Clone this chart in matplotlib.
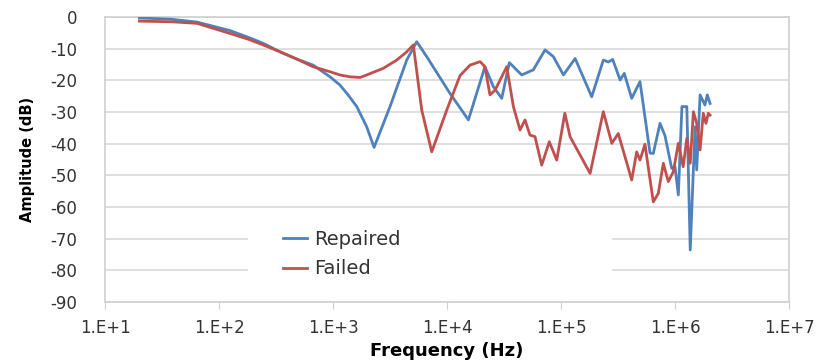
import numpy as np
import matplotlib.pyplot as plt
from matplotlib.patches import Rectangle

# Repaired (blue)
freq_repaired = [20, 38, 64, 125, 180, 243, 343, 450, 668, 942, 1150, 1355, 1615, 1975, 2290,
                 3160, 4430, 5420, 6630, 10600, 15400, 21500, 25500, 30200, 35200,
                 45200, 57100, 72400, 85600, 105000, 133000, 186000, 235000, 260000,
                 284000, 330000, 359000, 417000, 493000, 604000, 645000, 739000,
                 817000, 935000, 1.0e6, 1.07e6, 1.15e6, 1.27e6, 1.36e6, 1.50e6,
                 1.55e6, 1.66e6, 1.83e6, 1.92e6, 2.03e6]
amp_repaired = [-0.3, -0.7, -1.6, -4.3, -6.4, -8.3, -11.0, -12.9, -15.2, -18.9, -21.5, -24.6,
                -28.3, -34.7, -41.2, -28.3, -13.6, -7.8, -12.5, -24.1, -32.5, -15.7, -22.0,
                -25.7, -14.4, -18.3, -16.7, -10.4, -12.5, -18.3, -13.1, -25.2, -13.6,
                -14.2, -13.4, -19.9, -17.8, -25.7, -20.4, -43.0, -43.1, -33.6, -37.5,
                -47.8, -47.3, -56.2, -28.3, -28.3, -73.6, -34.7, -48.3, -24.6, -27.8,
                -24.6, -27.3]

# Failed (red)
freq_failed = [20, 38, 64, 125, 180, 243, 343, 450, 668, 942, 1150, 1410, 1725, 1975, 2760,
               3620, 4430, 5060, 6000, 7340, 9940, 13000, 15900, 19500, 21500, 23800, 26400,
               33400, 38200, 43700, 48300, 53400, 59100, 67700, 78900, 91700, 108000,
               120000, 180000, 235000, 279000, 318000, 417000, 461000, 493000,
               545000, 645000, 714000, 790000, 873000, 966000, 1.07e6, 1.18e6,
               1.27e6, 1.36e6, 1.45e6, 1.55e6, 1.66e6, 1.77e6, 1.87e6, 1.96e6, 2.03e6]
amp_failed = [-1.3, -1.5, -2.0, -5.2, -7.0, -8.8, -11.0, -12.8, -15.7, -17.3, -18.3, -18.9,
              -19.1, -18.3, -16.2, -13.6, -11.0, -8.8, -29.4, -42.6, -29.4, -18.5, -15.2,
              -14.1, -15.7, -24.6, -23.1, -15.7, -28.3, -35.7, -32.5, -37.3, -37.8, -46.8,
              -39.4, -45.2, -30.4, -37.8, -49.4, -29.9, -39.9, -36.8, -51.5, -42.6, -45.2,
              -40.2, -58.4, -55.7, -46.2, -52.0, -48.9, -39.9, -47.3, -38.3, -46.2, -29.9,
              -33.6, -42.0, -30.4, -33.6, -30.4, -31.0]

yticks = list(range(0, -100, -10))
xticks = [1e1, 1e2, 1e3, 1e4, 1e5, 1e6, 1e7]
xlabels = ['1.E+1', '1.E+2', '1.E+3', '1.E+4', '1.E+5', '1.E+6', '1.E+7']

plt.rcParams['font.family'] = 'DejaVu Sans'
fig = plt.figure(figsize=(8.21, 3.62), dpi=100)
ax = fig.add_axes([0.128, 0.166, 0.833, 0.787])

ax.plot(freq_repaired, amp_repaired, color='#4F81BD', lw=2, label='Repaired', zorder=3)
ax.plot(freq_failed, amp_failed, color='#C0504D', lw=2, label='Failed', zorder=3)

ax.set_xscale('log')
ax.set_xlim(1e1, 1e7)
ax.set_ylim(-90, 0)
ax.set_xticks(xticks)
ax.set_xticklabels(xlabels)
ax.xaxis.set_minor_locator(plt.NullLocator())
ax.set_yticks(yticks)
ax.set_yticklabels([str(t) for t in yticks])
ax.tick_params(axis='both', labelsize=12, colors='#333333')
ax.tick_params(axis='x', length=5, color='#d0d0d0', pad=7)
ax.tick_params(axis='y', length=0, pad=20)
ax.grid(axis='y', color='#d9d9d9', lw=1.2)
ax.set_axisbelow(True)
for s in ax.spines.values():
    s.set_color('#d0d0d0')
    s.set_linewidth(1.2)

# white legend background hides part of the gridlines
ax.add_patch(Rectangle((0.209, 0.042), 0.532, 0.263, transform=ax.transAxes,
                       facecolor='white', edgecolor='none', zorder=1))
leg = ax.legend(loc='center left', bbox_to_anchor=(0.235, 0.168), frameon=False,
                fontsize=14, handlelength=1.2, handletextpad=0.4, labelspacing=0.55)
for t in leg.get_texts():
    t.set_color('#333333')

ax.set_xlabel('Frequency (Hz)', fontsize=13, fontweight='bold')
ax.xaxis.set_label_coords(0.5, -0.142)
ax.set_ylabel('Amplitude (dB)', fontsize=10.5, fontweight='bold')
ax.yaxis.set_label_coords(-0.102, 0.5)

fig.savefig('out.png', dpi=100)
